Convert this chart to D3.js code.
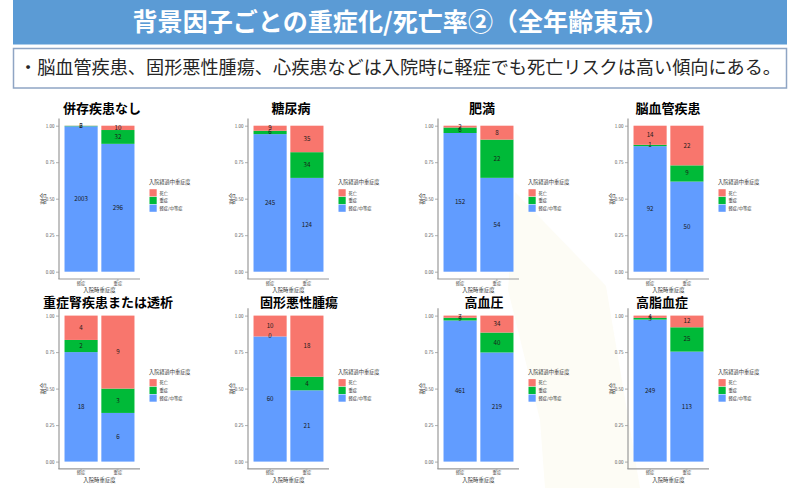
<!DOCTYPE html>
<html><head><meta charset="utf-8">
<script src="https://cdn.jsdelivr.net/npm/d3@7"></script>
<style>
body{margin:0;background:#fff}
svg{display:block}
text{font-family:"Noto Sans CJK JP","Noto Sans",sans-serif}
</style>
</head><body>
<svg id="c" width="800" height="488"></svg>
<script>
// ---------- data ----------
const mainTitle = "背景因子ごとの重症化/死亡率②（全年齢東京）";
const subTitle = "・脳血管疾患、固形悪性腫瘍、心疾患などは入院時に軽症でも死亡リスクは高い傾向にある。";
const panelTitles = ["併存疾患なし","糖尿病","肥満","脳血管疾患","重症腎疾患または透析","固形悪性腫瘍","高血圧","高脂血症"];
const admitCategories = ["軽症","重症"];            // x axis categories
const outcomeKeys = ["mm","sev","dth"];             // stacking order bottom -> top
const legendLabels = ["死亡","重症","軽症/中等症"];    // legend top -> bottom
const yTicks = [0, 0.25, 0.5, 0.75, 1.0];
const xAxisTitle = "入院時重症度";
const yAxisTitle = "割合";
const legendTitle = "入院経過中重症度";
// counts per panel: [軽症 bar, 重症 bar]
const mildModerateCounts = [[2003,296],[245,124],[152,54],[92,50],[18,6],[60,21],[461,219],[249,113]];
const severeCounts       = [[6,32],[6,34],[6,22],[1,9],[2,3],[0,4],[9,40],[3,25]];
const deathCounts        = [[2,10],[9,35],[2,8],[14,22],[4,9],[10,18],[7,34],[4,12]];

// ---------- layout / style ----------
const colors = {dth:"#F8766D", sev:"#00BA38", mm:"#619CFF"};
const legendColors = ["#F8766D","#00BA38","#619CFF"];
const colAxisX = [59, 248, 438, 628];
const rowTopY = [125.7, 315.6];
const rowTitleY = [112.5, 307];
const plotH = 146;
const plotW = 81;
const titleCx = [102, 291, 482, 668, 108, 299, 484, 662];

const svg = d3.select("#c");
svg.append("rect").attr("width",800).attr("height",488).attr("fill","#fff");

// faint background watermark shape
svg.append("path")
  .attr("d","M515,192 L606,286 L640,488 L545,488 L540,420 L508,290 Z")
  .attr("fill","#fdfcf5");

// header bar
svg.append("rect").attr("x",13).attr("y",0).attr("width",774).attr("height",44.5).attr("fill","#5B9BD5");
svg.append("text").attr("x",400.5).attr("y",31).attr("text-anchor","middle")
  .attr("fill","#fff").attr("font-size",25).attr("font-weight","bold")
  .attr("textLength",536).attr("lengthAdjust","spacingAndGlyphs").text(mainTitle);

// subtitle box
svg.append("rect").attr("x",13.5).attr("y",48.5).attr("width",773).attr("height",39.5)
  .attr("fill","#fff").attr("stroke","#8FA5C4").attr("stroke-width",1.5);
svg.append("text").attr("x",19).attr("y",74).attr("fill","#262626").attr("font-size",18)
  .attr("textLength",762).attr("lengthAdjust","spacingAndGlyphs").text(subTitle);

const stack = d3.stack().keys(outcomeKeys).offset(d3.stackOffsetExpand);

panelTitles.forEach((title, p) => {
  const col = p % 4, row = Math.floor(p / 4);
  const ax = colAxisX[col];
  const yTop = rowTopY[row];
  const g = svg.append("g");

  const x = d3.scaleBand().domain(admitCategories).range([ax, ax + plotW])
    .paddingInner(0.1).paddingOuter(0.15);
  const y = d3.scaleLinear().domain([0, 1]).range([yTop + plotH, yTop]);

  const rows = admitCategories.map((c, k) => ({
    cat: c, mm: mildModerateCounts[p][k], sev: severeCounts[p][k], dth: deathCounts[p][k]
  }));
  const series = stack(rows);

  // bars
  series.forEach(s => {
    g.selectAll(null).data(s).enter().append("rect")
      .attr("x", d => x(d.data.cat))
      .attr("width", x.bandwidth())
      .attr("y", d => y(d[1]))
      .attr("height", d => Math.max(0, y(d[0]) - y(d[1])))
      .attr("fill", colors[s.key]);
  });
  // labels
  series.forEach(s => {
    g.selectAll(null).data(s).enter().append("text")
      .attr("x", d => x(d.data.cat) + x.bandwidth() / 2)
      .attr("y", d => y((d[0] + d[1]) / 2) + 2)
      .attr("text-anchor", "middle")
      .attr("font-size", 6.2)
      .attr("fill", "#1a1a1a")
      .text(d => d.data[s.key]);
  });

  // axes
  const yBase = y(-0.05), yEnd = y(1.05);
  const yAxis = d3.axisLeft(y).tickValues(yTicks).tickFormat(d3.format(".2f")).tickSize(3).tickPadding(1.5);
  const ya = g.append("g").attr("transform", `translate(${ax},0)`).call(yAxis);
  ya.select(".domain").remove();
  ya.selectAll(".tick line").attr("stroke", "#999").attr("stroke-width", 0.8);
  ya.selectAll(".tick text").attr("font-size", 4.5).attr("fill", "#555").attr("font-family", "'Noto Sans',sans-serif");

  const xAxis = d3.axisBottom(x).tickSize(2).tickPadding(0.5);
  const xa = g.append("g").attr("transform", `translate(0,${yBase})`).call(xAxis);
  xa.select(".domain").remove();
  xa.selectAll(".tick line").attr("stroke", "#999").attr("stroke-width", 0.8);
  xa.selectAll(".tick text").attr("font-size", 4.3).attr("fill", "#555");

  g.append("line").attr("x1", ax).attr("x2", ax).attr("y1", yEnd).attr("y2", yBase)
    .attr("stroke", "#999").attr("stroke-width", 1.2);
  g.append("line").attr("x1", ax - 0.6).attr("x2", ax + plotW).attr("y1", yBase).attr("y2", yBase)
    .attr("stroke", "#999").attr("stroke-width", 1.2);

  // axis titles
  g.append("text").attr("x", ax + plotW / 2).attr("y", yBase + 12.6).attr("text-anchor", "middle")
    .attr("font-size", 5.4).attr("fill", "#333").text(xAxisTitle);
  g.append("text").attr("transform", `translate(${ax - 14.5},${y(0.5) + 0})rotate(-90)`)
    .attr("text-anchor", "middle").attr("font-size", 6).attr("fill", "#333").text(yAxisTitle);

  // legend
  const lx = ax + 90, ly = yTop + 58.5;
  g.append("text").attr("x", lx).attr("y", ly).attr("font-size", 5.2).attr("fill", "#333").text(legendTitle);
  legendLabels.forEach((lab, i) => {
    g.append("rect").attr("x", lx + 0.5).attr("y", ly + 5 + i * 7.7).attr("width", 7.2).attr("height", 7.2)
      .attr("fill", legendColors[i]);
    g.append("text").attr("x", lx + 10.5).attr("y", ly + 10.3 + i * 7.7).attr("font-size", 4.3)
      .attr("fill", "#333").text(lab);
  });

  // panel title
  g.append("text").attr("x", titleCx[p]).attr("y", rowTitleY[row]).attr("text-anchor", "middle")
    .attr("font-size", 13).attr("font-weight", "bold").attr("fill", "#000").text(title);
});
</script>
</body></html>
